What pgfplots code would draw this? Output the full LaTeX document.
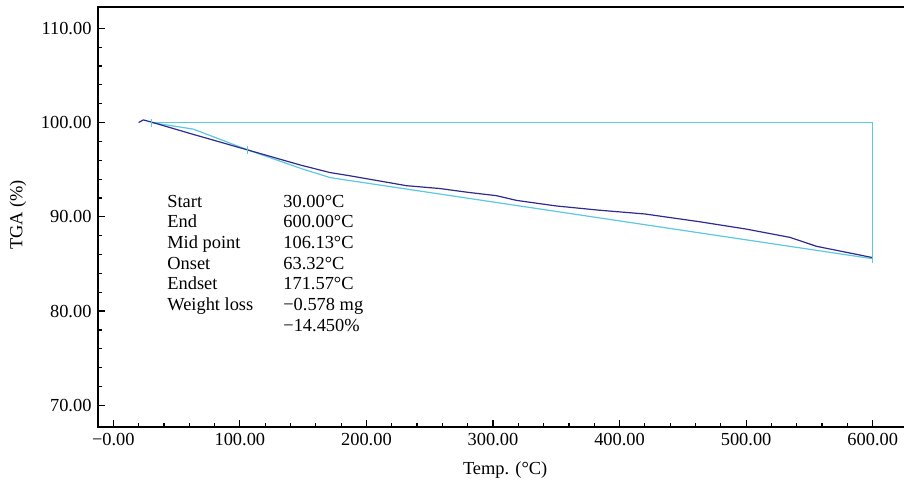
\documentclass[border=0pt]{standalone}
\usepackage{fontspec}
\setmainfont{Liberation Serif}
\usepackage{pgfplots}
\pgfplotsset{compat=1.18}
\definecolor{navy}{HTML}{2E2B8F}
\definecolor{cy}{HTML}{5CC8E2}
\begin{document}
\fontsize{9.2}{10.35}\selectfont
\begin{tikzpicture}
\useasboundingbox (-49pt,-29pt) rectangle (403pt,213.5pt);
\begin{axis}[scale only axis, width=410pt, height=210pt, at={(0,0)}, anchor=south west,
  xmin=-12.1, xmax=635.8, ymin=67.7, ymax=112.26,
  xtick={0,100,200,300,400,500,600},
  xticklabels={−0.00,100.00,200.00,300.00,400.00,500.00,600.00},
  ytick={70,80,90,100,110},
  yticklabels={70.00,80.00,90.00,100.00,110.00},
  minor x tick num=4, minor y tick num=4,
  tick align=inside, xtick pos=bottom, ytick pos=left,
  major tick length=3.5pt, minor tick length=2pt,
  axis line style={line width=0.7pt},
  tick style={black, line width=0.6pt},
  tick label style={font=\fontsize{9.2}{10}\selectfont},
  /pgf/number format/assume math mode=true,
  xlabel={Temp. (°C)}, ylabel={TGA (\%)},
  label style={font=\fontsize{9.2}{10}\selectfont},
  xlabel style={at={(axis description cs:0.4965,0)}, anchor=center, yshift=-21.5pt},
  ylabel style={at={(axis description cs:-0.0976,0.505)}, anchor=center},
  clip=false,
]
\addplot[cy, line width=0.6pt] coordinates {(30,100)(600,100)(600,85.45)};
\addplot[cy, line width=0.6pt] coordinates {(30,100)(63.3,99.3)(106.13,97.1)(150,95.05)(171.57,94.15)(600,85.55)};
\addplot[cy, only marks, mark=|, mark size=2pt, mark options={line width=0.5pt}] coordinates {(30,100)(106.13,97.1)(600,85.55)};
\addplot[navy, line width=0.6pt] coordinates {(20,100.0)(23.7,100.28)(30,100.05)(63,98.75)(106,97.1)(147.6,95.5)(171,94.7)(187,94.35)(231.7,93.3)(258,93.0)(280,92.6)(302.8,92.24)(318.6,91.74)(350,91.15)(384,90.7)(420,90.3)(463,89.48)(500,88.7)(534.5,87.82)(555.6,86.87)(600,85.67)};
\node[anchor=north west, inner sep=0pt, align=left] at (axis cs:42.4,92.6) {%
  \fontsize{9.2}{10.35}\selectfont
  \begin{tabular}{@{}p{58pt}@{}l@{}}
  Start & 30.00°C\\
  End & 600.00°C\\
  Mid point & 106.13°C\\
  Onset & 63.32°C\\
  Endset & 171.57°C\\
  Weight loss & −0.578 mg\\
   & −14.450\%
  \end{tabular}};
\end{axis}
\end{tikzpicture}
\end{document}
